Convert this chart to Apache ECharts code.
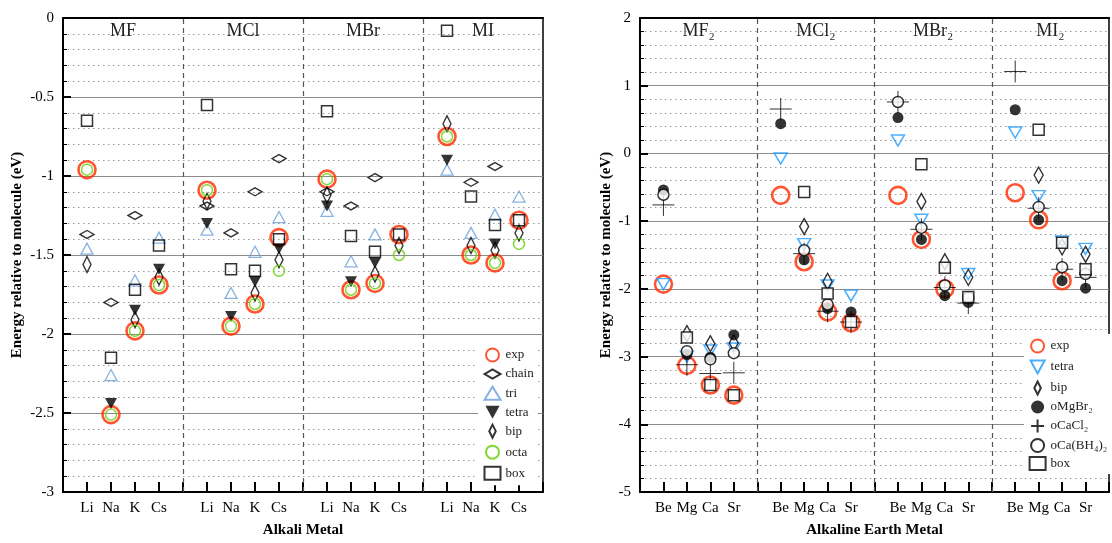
<!DOCTYPE html>
<html lang="en">
<head>
<meta charset="UTF-8">
<title>Energy relative to molecule</title>
<script src="https://cdn.jsdelivr.net/npm/echarts@6/dist/echarts.min.js"></script>
<style>
  html, body { margin: 0; padding: 0; background: #fff; overflow: hidden; }
</style>
</head>
<body>
<div id="main" style="width: 1112px;height:543px;"></div>
<script>
  // categories
  const alkali = ['Li', 'Na', 'K', 'Cs'];
  const halides = ['MF', 'MCl', 'MBr', 'MI'];
  const alkEarth = ['Be', 'Mg', 'Ca', 'Sr'];
  const halides2 = ['MF₂', 'MCl₂', 'MBr₂', 'MI₂'];

  // left panel values, order: MF(Li,Na,K,Cs), MCl(..), MBr(..), MI(..)
  const expL   = [-0.96, -2.51, -1.98, -1.69,  -1.09, -1.95, -1.81, -1.39,  -1.02, -1.72, -1.68, -1.37,  -0.75, -1.50, -1.55, -1.28];
  const chainL = [-1.37, -1.80, -1.25, null,   -1.19, -1.36, -1.10, -0.89,  -1.10, -1.19, -1.01, null,   null,  -1.04, -0.94, null];
  const triL   = [-1.46, -2.26, -1.66, -1.39,  -1.34, -1.74, -1.48, -1.26,  -1.22, -1.54, -1.37, null,   -0.96, -1.36, -1.245, -1.13];
  const tetraL = [null,  -2.44, -1.85, -1.59,  -1.30, -1.89, -1.67, -1.46,  -1.19, -1.67, -1.55, null,   -0.90, null,  -1.43, null];
  const bipL   = [-1.56, null,  -1.91, -1.64,  -1.16, null,  -1.74, -1.53,  -1.12, null,  -1.62, -1.44,  -0.67, -1.44, -1.47, -1.36];
  const octaL  = [-0.96, -2.51, -1.98, -1.69,  -1.09, -1.95, -1.81, -1.60,  -1.02, -1.72, -1.68, -1.50,  -0.75, -1.50, -1.55, -1.43];
  const boxL   = [-0.65, -2.15, -1.72, -1.44,  -0.55, -1.59, -1.60, -1.40,  -0.59, -1.38, -1.48, -1.37,  -0.08, -1.13, -1.31, -1.28];

  // right panel values, order: MF2(Be,Mg,Ca,Sr), MCl2(..), MBr2(..), MI2(..)
  const expR   = [-1.93, -3.13, -3.42, -3.57,  -0.62, -1.60, -2.34, -2.50,  -0.62, -1.27, -2.00, null,   -0.58, -0.98, -1.88, null];
  const tetraR = [-1.93, -3.00, -2.91, -2.88,  -0.075, -1.34, -1.95, -2.10, 0.19, -0.98, null,  -1.78,  0.31, -0.63, -1.30, -1.41];
  const bipR   = [null,  -2.66, -2.81, -2.80,  null,  -1.08, -1.89, null,   null,  -0.71, -1.60, -1.83,  null,  -0.32, -1.38, -1.49];
  const mgbrR  = [-0.54, -2.97, -3.01, -2.68,  0.44,  -1.57, -2.29, -2.34,  0.53,  -1.27, -2.10, -2.20,  0.645, -0.98, -1.88, -1.99];
  const caclR  = [-0.76, -3.12, -3.25, -3.24,  0.656, -1.48, -2.33, -2.49,  0.76,  -1.12, -1.98, -2.21,  1.21,  -0.81, -1.71, -1.83];
  const cabhR  = [-0.61, -2.92, -3.04, -2.95,  null,  -1.43, -2.23, null,   0.76,  -1.10, -1.95, -2.13,  null,  -0.79, -1.68, -1.78];
  const boxR   = [null,  -2.72, -3.42, -3.57,  null,  -0.57, -2.07, -2.49,  null,  -0.16, -1.69, -2.12,  null,  0.35,  -1.32, -1.71];

  const serif = 'Liberation Serif';

  // slot on the x axis: 4 metals per group, one empty slot between groups
  function toPoints(vals) {
    let pts = [];
    vals.forEach((v, i) => {
      if (v === null) return;
      pts.push([Math.floor(i / 4) * 5 + (i % 4) + 1, v]);
    });
    return pts;
  }

  function sc(name, gi, vals, symbol, size, itemStyle) {
    return {
      name: name,
      type: 'scatter',
      xAxisIndex: gi * 2,
      yAxisIndex: gi,
      data: toPoints(vals),
      symbol: symbol,
      symbolSize: size,
      itemStyle: itemStyle,
      emphasis: { disabled: true },
      silent: true,
    };
  }

  const hDiamond = 'path://M0,4L7,0L14,4L7,8Z';
  const vDiamond = 'path://M4,0L8,8L4,16L0,8Z';
  const downTri = 'path://M0,0L12,0L6,11Z';
  const plus = 'path://M0,11L22,11M11,0L11,22';
  const red = '#ff2a00';

  const sepLine = {
    silent: true,
    symbol: 'none',
    label: { show: false },
    lineStyle: { color: '#555', type: [5, 4], width: 1.2 },
    data: [{ xAxis: 5 }, { xAxis: 10 }, { xAxis: 15 }],
  };

  let seriesData = [
    sc('exp', 0, expL, 'circle', 17, { color: 'none', borderColor: red, borderWidth: 2.6 }),
    sc('chain', 0, chainL, hDiamond, [14, 8], { color: 'none', borderColor: '#000', borderWidth: 1.5 }),
    sc('tri', 0, triL, 'triangle', [12, 11], { color: 'none', borderColor: '#6a9fd8', borderWidth: 1.3 }),
    sc('tetra', 0, tetraL, downTri, [12, 11], { color: '#000' }),
    sc('bip', 0, bipL, vDiamond, [8, 16], { color: 'none', borderColor: '#000', borderWidth: 1.5 }),
    sc('octa', 0, octaL, 'circle', 11, { color: 'none', borderColor: '#66cc00', borderWidth: 1.5 }),
    sc('box', 0, boxL, 'rect', 11, { color: 'none', borderColor: '#000', borderWidth: 1.5 }),

    sc('R:exp', 1, expR, 'circle', 17, { color: 'none', borderColor: red, borderWidth: 2.6 }),
    sc('R:tetra', 1, tetraR, downTri, [13, 11], { color: 'none', borderColor: '#1e9bff', borderWidth: 1.5 }),
    sc('R:bip', 1, bipR, vDiamond, [9, 16], { color: 'none', borderColor: '#000', borderWidth: 1.5 }),
    sc('oMgBr₂', 1, mgbrR, 'circle', 11, { color: '#000' }),
    sc('oCaCl₂', 1, caclR, plus, 22, { color: 'none', borderColor: '#000', borderWidth: 1 }),
    sc('oCa(BH₄)₂', 1, cabhR, 'circle', 11, { color: '#fff', borderColor: '#000', borderWidth: 1.5 }),
    sc('R:box', 1, boxR, 'rect', 11, { color: '#fff', borderColor: '#000', borderWidth: 1.5 }),
  ];
  seriesData[0].markLine = sepLine;
  seriesData[7].markLine = sepLine;

  function bottomAxis(gi, names, title) {
    return {
      type: 'value', gridIndex: gi, position: 'bottom',
      min: 0, max: 20, interval: 1,
      name: title, nameLocation: 'middle', nameGap: 31,
      nameTextStyle: { fontFamily: serif, fontWeight: 'bold', fontSize: 15, color: '#000' },
      axisLine: { onZero: false, lineStyle: { color: '#000', width: 2 } },
      axisTick: { inside: true, length: 10, lineStyle: { color: '#000', width: 2 } },
      axisLabel: {
        fontFamily: serif, fontSize: 15, color: '#000', margin: 9,
        formatter: (v) => {
          let r = Math.round(v) % 5;
          return r === 0 ? '' : names[r - 1];
        },
      },
      splitLine: { show: false },
    };
  }

  function topAxis(gi, groups) {
    return {
      type: 'value', gridIndex: gi, position: 'top',
      min: 0, max: 20, interval: 2.5,
      axisLine: { onZero: false, lineStyle: { color: '#000', width: 2 } },
      axisTick: { show: false },
      axisLabel: {
        inside: true, margin: 4,
        fontFamily: serif, fontSize: 18, color: '#222',
        formatter: (v) => {
          let g = Math.floor(v / 5);
          return Math.abs(v - (g * 5 + 2.5)) < 0.01 ? groups[g] : '';
        },
      },
      splitLine: { show: false },
    };
  }

  function leftAxis(gi, min, max, interval, nameGap) {
    return {
      type: 'value', gridIndex: gi,
      min: min, max: max, interval: interval,
      name: 'Energy relative to molecule (eV)', nameLocation: 'middle', nameGap: nameGap,
      nameTextStyle: { fontFamily: serif, fontWeight: 'bold', fontSize: 15, color: '#000' },
      axisLine: { onZero: false, lineStyle: { color: '#000', width: 2 } },
      axisTick: { inside: true, length: 8, lineStyle: { color: '#000', width: 2 } },
      minorTick: { show: true, splitNumber: 5, length: 4, lineStyle: { color: '#000', width: 1 } },
      axisLabel: { fontFamily: serif, fontSize: 15, color: '#000', margin: 9 },
      splitLine: { show: true, lineStyle: { color: '#8c8c8c', width: 1.2 } },
      minorSplitLine: { show: true, lineStyle: { color: '#999', type: [1.5, 3.5], width: 1 } },
    };
  }

  function legendFor(names, left, top) {
    return {
      data: names,
      orient: 'vertical',
      left: left, top: top,
      backgroundColor: '#fff',
      padding: [3, 4, 3, 4],
      itemWidth: 16, itemHeight: 13, itemGap: 3,
      selectedMode: false,
      formatter: (n) => n.replace('R:', ''),
      textStyle: { fontFamily: serif, fontSize: 13, lineHeight: 14, color: '#222' },
    };
  }

  let myChart = echarts.init(document.getElementById('main'));
  let option = {
    animation: false,
    backgroundColor: '#fff',
    grid: [
      { left: 63, top: 18, width: 480, height: 479, show: true, borderColor: '#000', borderWidth: 1.5 },
      { left: 640, top: 18, width: 480, height: 479, show: true, borderColor: '#000', borderWidth: 1.5 },
    ],
    xAxis: [
      bottomAxis(0, alkali, 'Alkali Metal'),
      topAxis(0, halides),
      bottomAxis(1, alkEarth, 'Alkaline Earth Metal'),
      topAxis(1, halides2),
    ],
    yAxis: [
      leftAxis(0, -3, 0, 0.5, 38),
      leftAxis(1, -5, 2, 1, 26),
    ],
    legend: [
      legendFor(['exp', 'chain', 'tri', 'tetra', 'bip', 'octa', 'box'], 478, 343),
      legendFor(['R:exp', 'R:tetra', 'R:bip', 'oMgBr₂', 'oCaCl₂', 'oCa(BH₄)₂', 'R:box'], 1024, 334),
    ],
    series: seriesData,
  };
  myChart.setOption(option, true);
</script>
</body>
</html>
